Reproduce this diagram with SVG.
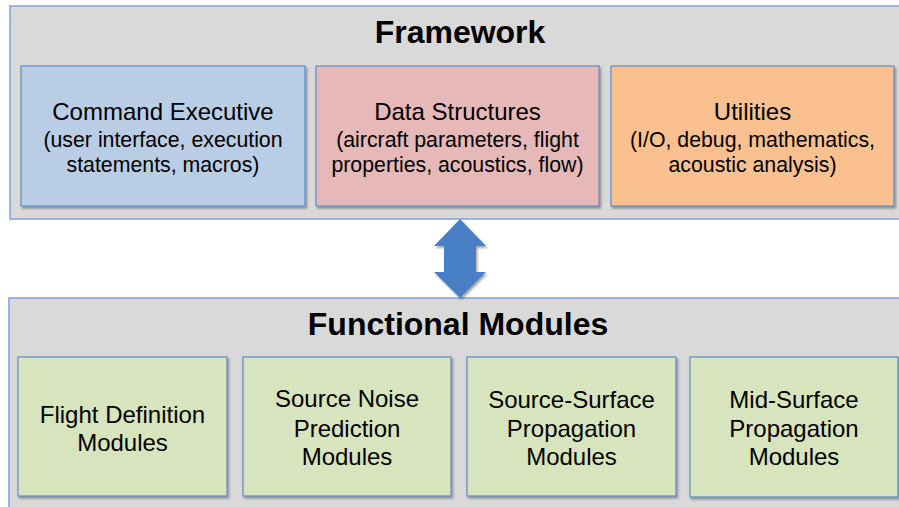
<svg xmlns="http://www.w3.org/2000/svg" width="899" height="507" viewBox="0 0 899 507">
<defs>
<filter id="sh" x="-5%" y="-5%" width="110%" height="115%">
<feDropShadow dx="1.5" dy="2" stdDeviation="1.2" flood-color="#000" flood-opacity="0.35"/>
</filter>
<style>
.frame{fill:#d9d9d9;stroke:#7ea3d6;stroke-width:1.5}
.box{stroke:#5f8bc9;stroke-width:1.2;filter:url(#sh)}
.blue{fill:#b9cde5}
.red{fill:#e6b9b8}
.orange{fill:#fac090}
.green{fill:#d7e4bd}
text{font-family:"Liberation Sans",Arial,sans-serif;fill:#000;text-anchor:middle}
.h{font-size:32px;font-weight:bold}
.t{font-size:24px}
.s{font-size:21.3px}
.arrow{fill:#4a7fc4;filter:url(#sh)}
</style>
</defs>
<rect width="899" height="507" fill="#fff"/>
<g id="framework">
<rect class="frame" x="10" y="6" width="900" height="213"/>
<text class="h" x="460" y="43">Framework</text>
</g>
<g id="command-executive">
<rect class="box blue" x="21" y="66" width="284" height="140"/>
<text class="t" x="163" y="120">Command Executive</text>
<text class="s" x="163" y="147">(user interface, execution</text>
<text class="s" x="163" y="172">statements, macros)</text>
</g>
<g id="data-structures">
<rect class="box red" x="316" y="66" width="283" height="140"/>
<text class="t" x="457.5" y="120">Data Structures</text>
<text class="s" x="457.5" y="147">(aircraft parameters, flight</text>
<text class="s" x="457.5" y="172">properties, acoustics, flow)</text>
</g>
<g id="utilities">
<rect class="box orange" x="611" y="66" width="283" height="140"/>
<text class="t" x="752.5" y="120">Utilities</text>
<text class="s" x="752.5" y="147">(I/O, debug, mathematics,</text>
<text class="s" x="752.5" y="172">acoustic analysis)</text>
</g>
<g id="functional-modules">
<rect class="frame" x="9" y="298" width="901" height="220"/>
<text class="h" x="458" y="335">Functional Modules</text>
</g>
<g id="flight-definition">
<rect class="box green" x="18" y="357" width="209" height="139"/>
<text class="t" x="122.5" y="423">Flight Definition</text>
<text class="t" x="122.5" y="451">Modules</text>
</g>
<g id="source-noise">
<rect class="box green" x="243" y="357" width="208" height="139"/>
<text class="t" x="347" y="407">Source Noise</text>
<text class="t" x="347" y="437">Prediction</text>
<text class="t" x="347" y="465">Modules</text>
</g>
<g id="source-surface">
<rect class="box green" x="467" y="357" width="209" height="139"/>
<text class="t" x="571.5" y="408">Source-Surface</text>
<text class="t" x="571.5" y="437">Propagation</text>
<text class="t" x="571.5" y="465">Modules</text>
</g>
<g id="mid-surface">
<rect class="box green" x="690" y="357" width="208" height="140"/>
<text class="t" x="794" y="408">Mid-Surface</text>
<text class="t" x="794" y="437">Propagation</text>
<text class="t" x="794" y="465">Modules</text>
</g>
<g id="connectors">
<polygon class="arrow" points="460,219 486,246 476,246 476,272 486,272 460,298 434,272 444,272 444,246 434,246"/>
</g>
</svg>
